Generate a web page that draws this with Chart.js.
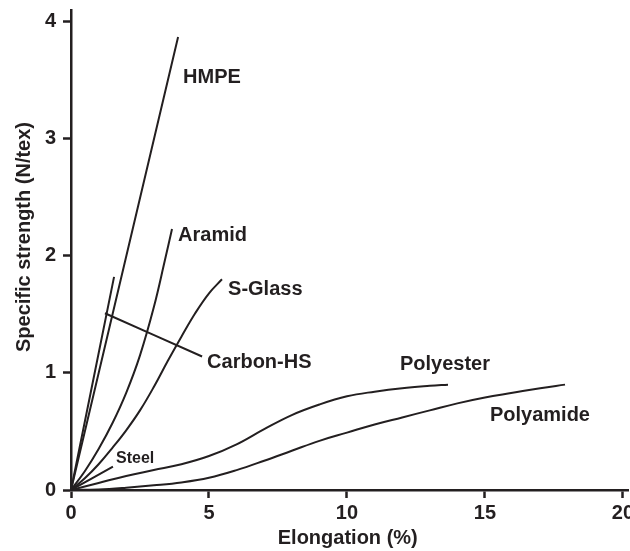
<!DOCTYPE html>
<html>
<head>
<meta charset="utf-8">
<script src="https://cdn.jsdelivr.net/npm/chart.js@4.4.1/dist/chart.umd.min.js"></script>
<style>
  html, body { margin: 0; padding: 0; background: #fff; }
  canvas { display: block; }
</style>
</head>
<body>
<canvas id="c" width="630" height="551"></canvas>
<script>
// Stress–strain curves of fibre materials: elongation (%) vs specific strength (N/tex)
const xTicks = [0, 5, 10, 15, 20];
const yTicks = [0, 1, 2, 3, 4];

const hmpeX = [0, 3.88];
const hmpeY = [0, 3.87];

const aramidX = [0, 0.5, 1.0, 1.5, 2.0, 2.5, 3.0, 3.4, 3.66];
const aramidY = [0, 0.16, 0.35, 0.57, 0.83, 1.15, 1.56, 1.96, 2.23];

const sGlassX = [0, 0.5, 1.0, 1.5, 2.0, 2.5, 3.0, 3.5, 4.0, 4.5, 5.0, 5.47];
const sGlassY = [0, 0.10, 0.22, 0.36, 0.51, 0.68, 0.88, 1.10, 1.31, 1.51, 1.68, 1.80];

const carbonX = [0, 1.56];
const carbonY = [0, 1.82];

const steelX = [0, 1.52];
const steelY = [0, 0.20];

const polyesterX = [0, 1, 2, 3, 4, 5, 6, 7, 8, 9, 10, 11, 12, 13, 13.66];
const polyesterY = [0, 0.06, 0.12, 0.17, 0.22, 0.29, 0.39, 0.52, 0.64, 0.73, 0.80, 0.84, 0.87, 0.89, 0.90];

const polyamideX = [0, 1, 2, 3, 4, 5, 6, 7, 8, 9, 10, 11, 12, 13, 14, 15, 16, 17, 17.9];
const polyamideY = [0, 0.005, 0.02, 0.04, 0.065, 0.105, 0.17, 0.25, 0.335, 0.42, 0.49, 0.56, 0.62, 0.68, 0.74, 0.79, 0.83, 0.87, 0.90];

// leader line pointing from the Carbon-HS label to its curve
const carbonLeaderX = [1.23, 4.75];
const carbonLeaderY = [1.51, 1.14];

// curve labels: text, anchor x, anchor y (data units), font size
const labelText = ['HMPE', 'Aramid', 'S-Glass', 'Carbon-HS', 'Polyester', 'Polyamide', 'Steel'];
const labelX = [4.06, 3.88, 5.69, 4.93, 11.92, 15.18, 1.63];
const labelY = [3.52, 2.17, 1.71, 1.09, 1.07, 0.64, 0.265];
const labelSize = [20, 20, 20, 20, 20, 20, 16];

const xTitle = 'Elongation (%)';
const yTitle = 'Specific strength (N/tex)';

const INK = '#231f20';
const FONT = '"Liberation Sans", Arial, sans-serif';

const pts = (xs, ys) => xs.map((x, i) => ({ x, y: ys[i] }));
const curve = (name, xs, ys) => ({
  label: name,
  data: pts(xs, ys),
  showLine: true,
  borderColor: INK,
  borderWidth: 2,
  pointRadius: 0,
  fill: false,
  tension: 0.4
});

const datasets = [
  curve('HMPE', hmpeX, hmpeY),
  curve('Aramid', aramidX, aramidY),
  curve('S-Glass', sGlassX, sGlassY),
  curve('Carbon-HS', carbonX, carbonY),
  curve('Steel', steelX, steelY),
  curve('Polyester', polyesterX, polyesterY),
  curve('Polyamide', polyamideX, polyamideY),
  curve('leader', carbonLeaderX, carbonLeaderY)
];

const annotate = {
  id: 'annotate',
  afterDatasetsDraw(chart) {
    const { ctx, scales: { x, y }, chartArea } = chart;
    ctx.save();
    ctx.fillStyle = INK;
    ctx.textBaseline = 'middle';
    ctx.textAlign = 'left';
    labelText.forEach((t, i) => {
      ctx.font = `bold ${labelSize[i]}px ${FONT}`;
      ctx.fillText(t, x.getPixelForValue(labelX[i]), y.getPixelForValue(labelY[i]));
    });
    // axis titles
    ctx.font = `bold 20px ${FONT}`;
    ctx.textAlign = 'center';
    ctx.fillText(xTitle, (chartArea.left + chartArea.right) / 2 - 2, chartArea.bottom + 48);
    ctx.translate(24, (chartArea.top + chartArea.bottom) / 2 - 13);
    ctx.rotate(-Math.PI / 2);
    ctx.fillText(yTitle, 0, 0);
    ctx.restore();
  }
};

const axisCommon = {
  type: 'linear',
  grid: {
    display: true,
    drawOnChartArea: false,
    drawTicks: true,
    tickLength: 8,
    tickWidth: 2.5,
    tickColor: INK
  },
  border: { display: true, color: INK, width: 2.5 },
  ticks: {
    color: INK,
    font: { family: FONT, size: 20, weight: 'bold' },
    maxRotation: 0
  }
};

new Chart(document.getElementById('c'), {
  type: 'scatter',
  data: { datasets },
  options: {
    responsive: false,
    animation: false,
    layout: { padding: { top: 10, right: 1.5, left: 0, bottom: 0 } },
    plugins: { legend: { display: false }, tooltip: { enabled: false } },
    scales: {
      x: {
        ...axisCommon,
        min: 0,
        max: 20.2,
        ticks: { ...axisCommon.ticks, padding: 3 },
        afterBuildTicks: s => { s.ticks = xTicks.map(v => ({ value: v })); },
        afterFit: s => { s.height = 61; s.paddingLeft = 0; s.paddingRight = 0; }
      },
      y: {
        ...axisCommon,
        min: 0,
        max: 4.1,
        ticks: { ...axisCommon.ticks, padding: 7 },
        afterBuildTicks: s => { s.ticks = yTicks.map(v => ({ value: v })); },
        afterFit: s => { s.width = 71; s.paddingTop = 0; s.paddingBottom = 0; }
      }
    }
  },
  plugins: [annotate]
});
</script>
</body>
</html>
